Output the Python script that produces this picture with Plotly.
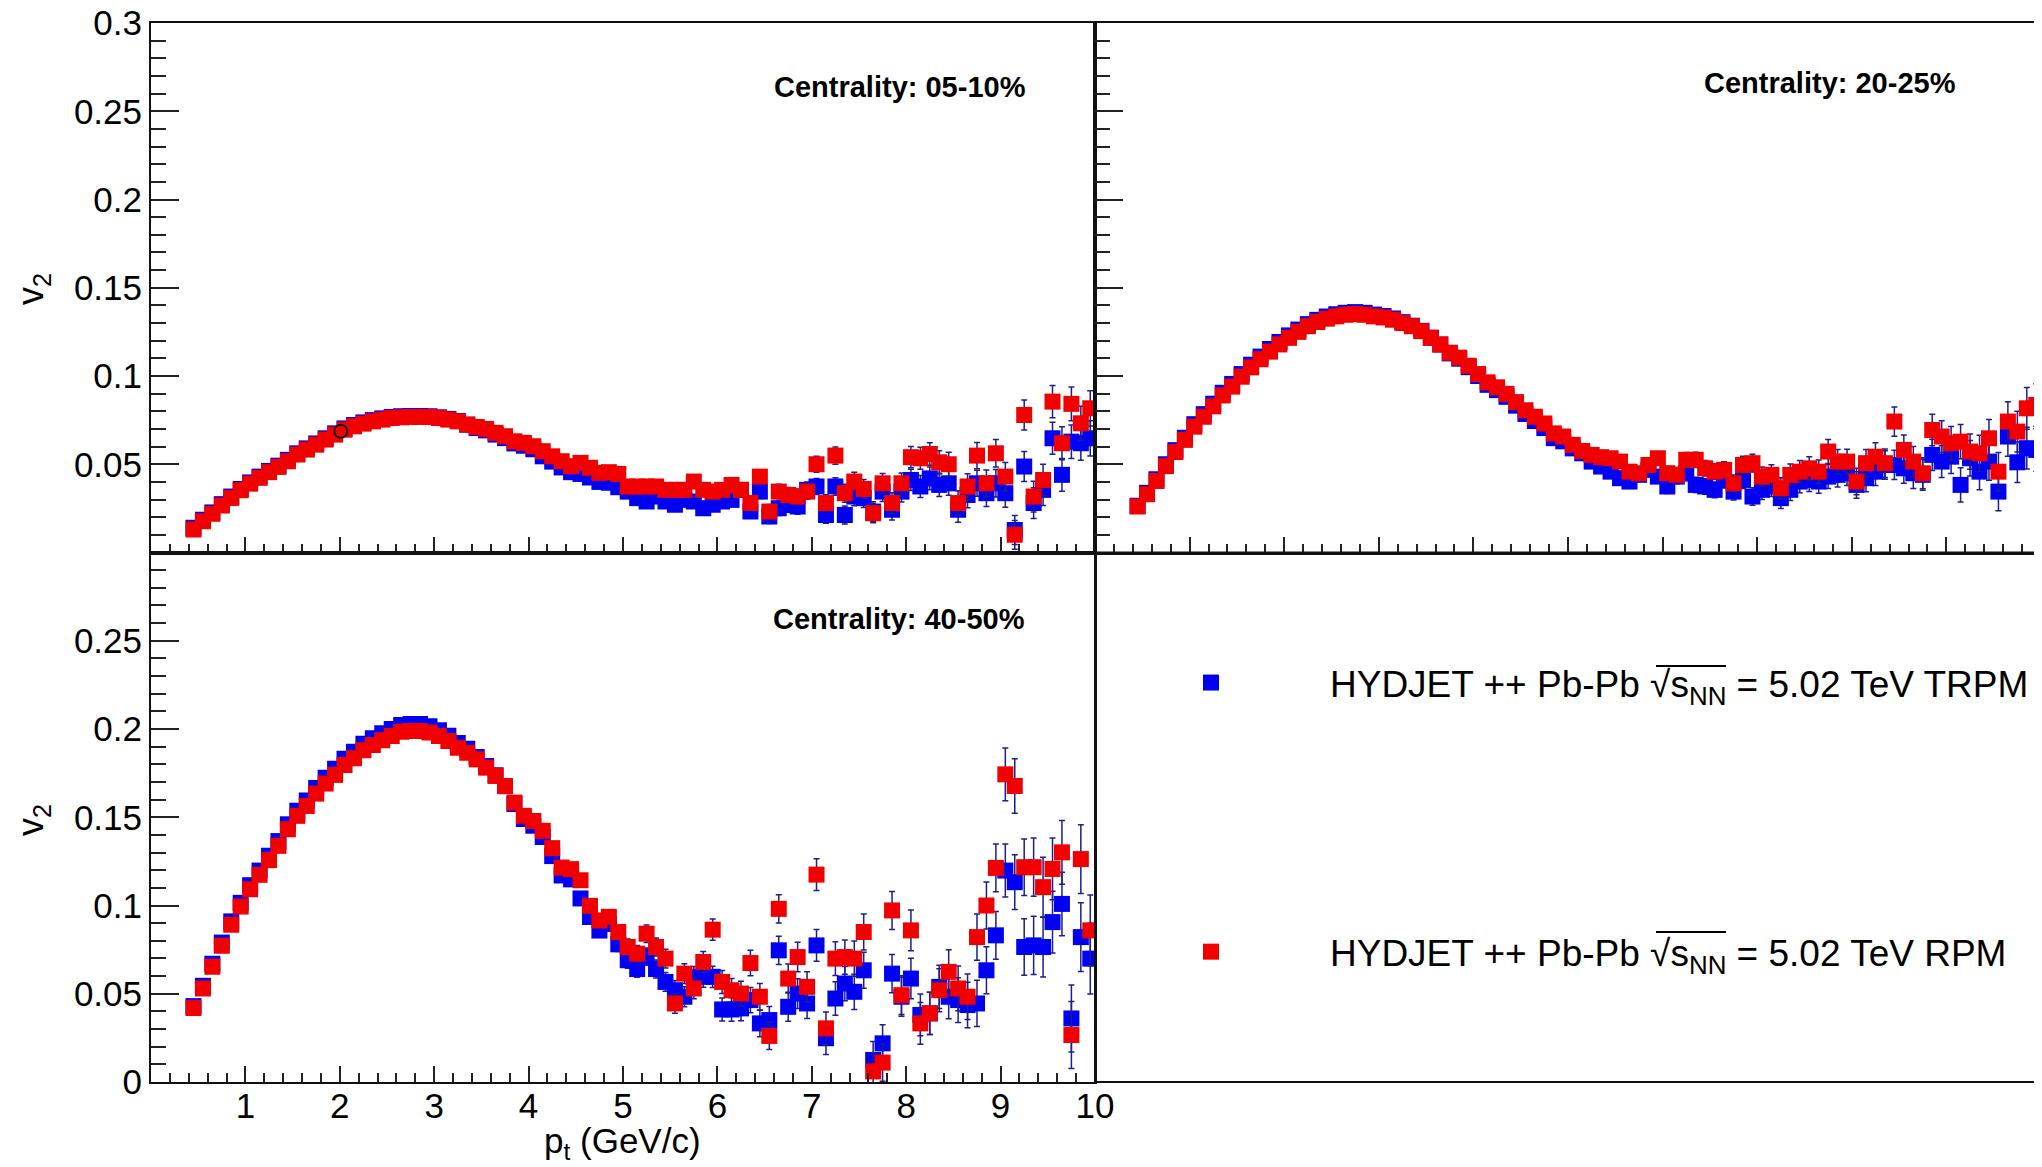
import plotly.graph_objects as go

# ---------------- data (bin centres in GeV/c) ----------------
PT = [0.45, 0.55, 0.65, 0.75, 0.85, 0.95, 1.05, 1.15, 1.25, 1.35,
      1.45, 1.55, 1.65, 1.75, 1.85, 1.95, 2.05, 2.15, 2.25, 2.35,
      2.45, 2.55, 2.65, 2.75, 2.85, 2.95, 3.05, 3.15, 3.25, 3.35,
      3.45, 3.55, 3.65, 3.75, 3.85, 3.95, 4.05, 4.15, 4.25, 4.35,
      4.45, 4.55, 4.65, 4.75, 4.85, 4.95, 5.05, 5.15, 5.25, 5.35,
      5.45, 5.55, 5.65, 5.75, 5.85, 5.95, 6.05, 6.15, 6.25, 6.35,
      6.45, 6.55, 6.65, 6.75, 6.85, 6.95, 7.05, 7.15, 7.25, 7.35,
      7.45, 7.55, 7.65, 7.75, 7.85, 7.95, 8.05, 8.15, 8.25, 8.35,
      8.45, 8.55, 8.65, 8.75, 8.85, 8.95, 9.05, 9.15, 9.25, 9.35,
      9.45, 9.55, 9.65, 9.75, 9.85, 9.95]

# Centrality 05-10%
C0510_TRPM = [0.0140, 0.0185, 0.0227, 0.0274, 0.0317, 0.0360, 0.0397, 0.0430, 0.0462, 0.0492,
              0.0525, 0.0562, 0.0590, 0.0618, 0.0647, 0.0675, 0.0703, 0.0722, 0.0737, 0.0750,
              0.0760, 0.0768, 0.0772, 0.0773, 0.0773, 0.0772, 0.0766, 0.0757, 0.0745, 0.0724,
              0.0705, 0.0692, 0.0668, 0.0648, 0.0618, 0.0605, 0.0585, 0.0545, 0.0515, 0.0482,
              0.0455, 0.0445, 0.0425, 0.0400, 0.0395, 0.0370, 0.0345, 0.0308, 0.0289, 0.0317,
              0.0289, 0.0270, 0.0298, 0.0289, 0.0251, 0.0270, 0.0289, 0.0298, 0.0355, 0.0232,
              0.0345, 0.0204, 0.0251, 0.0270, 0.0260, 0.0355, 0.0374, 0.0213, 0.0374, 0.0213,
              0.0317, 0.0308, 0.0232, 0.0345, 0.0242, 0.0345, 0.0411, 0.0374, 0.0420, 0.0383,
              0.0392, 0.0242, 0.0326, 0.0392, 0.0336, 0.0392, 0.0336, 0.0128, 0.0487, 0.0280,
              0.0355, 0.0647, 0.0440, 0.0628, 0.0619, 0.0647]
C0510_RPM = [0.0130, 0.0177, 0.0219, 0.0266, 0.0309, 0.0353, 0.0390, 0.0423, 0.0455, 0.0485,
             0.0517, 0.0555, 0.0583, 0.0611, 0.0640, 0.0668, 0.0696, 0.0715, 0.0730, 0.0743,
             0.0753, 0.0762, 0.0766, 0.0768, 0.0768, 0.0768, 0.0762, 0.0753, 0.0743, 0.0725,
             0.0711, 0.0700, 0.0678, 0.0659, 0.0630, 0.0621, 0.0602, 0.0574, 0.0545, 0.0517,
             0.0489, 0.0508, 0.0480, 0.0451, 0.0455, 0.0445, 0.0374, 0.0374, 0.0374, 0.0374,
             0.0355, 0.0355, 0.0355, 0.0402, 0.0355, 0.0345, 0.0355, 0.0383, 0.0355, 0.0280,
             0.0430, 0.0232, 0.0345, 0.0326, 0.0317, 0.0345, 0.0500, 0.0280, 0.0549, 0.0336,
             0.0402, 0.0360, 0.0223, 0.0392, 0.0280, 0.0392, 0.0540, 0.0534, 0.0558, 0.0511,
             0.0500, 0.0280, 0.0374, 0.0549, 0.0392, 0.0562, 0.0430, 0.0100, 0.0779, 0.0317,
             0.0411, 0.0855, 0.0619, 0.0842, 0.0732, 0.0817]
C0510_ERR = [0.0006, 0.0006, 0.0006, 0.0006, 0.0006, 0.0006, 0.0006, 0.0006, 0.0006, 0.0006,
             0.0008, 0.0008, 0.0008, 0.0008, 0.0008, 0.0008, 0.0008, 0.0008, 0.0008, 0.0008,
             0.0010, 0.0010, 0.0010, 0.0010, 0.0010, 0.0010, 0.0010, 0.0010, 0.0010, 0.0010,
             0.0013, 0.0013, 0.0013, 0.0013, 0.0013, 0.0013, 0.0013, 0.0013, 0.0013, 0.0013,
             0.0016, 0.0018, 0.0020, 0.0021, 0.0022, 0.0024, 0.0025, 0.0026, 0.0027, 0.0028,
             0.0029, 0.0030, 0.0031, 0.0032, 0.0033, 0.0034, 0.0035, 0.0036, 0.0037, 0.0038,
             0.0039, 0.0040, 0.0041, 0.0042, 0.0043, 0.0044, 0.0045, 0.0047, 0.0049, 0.0051,
             0.0052, 0.0053, 0.0055, 0.0056, 0.0058, 0.0059, 0.0060, 0.0062, 0.0064, 0.0066,
             0.0068, 0.0070, 0.0072, 0.0074, 0.0076, 0.0078, 0.0080, 0.0082, 0.0085, 0.0087,
             0.0089, 0.0091, 0.0093, 0.0095, 0.0097, 0.0100]

# Centrality 20-25%
C2025_TRPM = [0.0265, 0.0338, 0.0415, 0.0500, 0.0580, 0.0650, 0.0727, 0.0784, 0.0843, 0.0905,
              0.0955, 0.1011, 0.1064, 0.1110, 0.1153, 0.1193, 0.1230, 0.1263, 0.1294, 0.1318,
              0.1337, 0.1350, 0.1358, 0.1362, 0.1358, 0.1348, 0.1340, 0.1326, 0.1305, 0.1285,
              0.1256, 0.1217, 0.1178, 0.1128, 0.1098, 0.1050, 0.1000, 0.0950, 0.0920, 0.0882,
              0.0832, 0.0785, 0.0745, 0.0705, 0.0648, 0.0630, 0.0590, 0.0562, 0.0515, 0.0487,
              0.0458, 0.0421, 0.0402, 0.0440, 0.0468, 0.0430, 0.0374, 0.0430, 0.0449, 0.0383,
              0.0374, 0.0355, 0.0411, 0.0345, 0.0411, 0.0317, 0.0355, 0.0374, 0.0308, 0.0355,
              0.0402, 0.0411, 0.0402, 0.0430, 0.0440, 0.0449, 0.0383, 0.0421, 0.0458, 0.0496,
              0.0496, 0.0477, 0.0449, 0.0440, 0.0553, 0.0515, 0.0543, 0.0383, 0.0534, 0.0458,
              0.0515, 0.0345, 0.0657, 0.0511, 0.0591, 0.0581]
C2025_RPM = [0.0261, 0.0330, 0.0405, 0.0489, 0.0569, 0.0638, 0.0713, 0.0769, 0.0828, 0.0890,
             0.0940, 0.0996, 0.1049, 0.1095, 0.1138, 0.1179, 0.1216, 0.1250, 0.1282, 0.1306,
             0.1325, 0.1338, 0.1347, 0.1351, 0.1347, 0.1338, 0.1332, 0.1319, 0.1300, 0.1282,
             0.1254, 0.1216, 0.1179, 0.1132, 0.1104, 0.1058, 0.1011, 0.0964, 0.0936, 0.0899,
             0.0852, 0.0806, 0.0769, 0.0731, 0.0675, 0.0657, 0.0610, 0.0575, 0.0553, 0.0540,
             0.0534, 0.0515, 0.0458, 0.0449, 0.0496, 0.0534, 0.0449, 0.0440, 0.0525, 0.0525,
             0.0477, 0.0458, 0.0468, 0.0392, 0.0496, 0.0506, 0.0430, 0.0440, 0.0364, 0.0440,
             0.0458, 0.0477, 0.0458, 0.0572, 0.0515, 0.0515, 0.0402, 0.0506, 0.0543, 0.0506,
             0.0742, 0.0581, 0.0515, 0.0449, 0.0694, 0.0657, 0.0619, 0.0628, 0.0572, 0.0562,
             0.0647, 0.0458, 0.0742, 0.0685, 0.0817, 0.0836]
C2025_ERR = [0.0006, 0.0006, 0.0006, 0.0006, 0.0006, 0.0006, 0.0006, 0.0006, 0.0006, 0.0006,
             0.0008, 0.0008, 0.0008, 0.0008, 0.0008, 0.0008, 0.0008, 0.0008, 0.0008, 0.0008,
             0.0010, 0.0010, 0.0010, 0.0010, 0.0010, 0.0010, 0.0010, 0.0010, 0.0010, 0.0010,
             0.0013, 0.0013, 0.0013, 0.0013, 0.0013, 0.0013, 0.0013, 0.0013, 0.0013, 0.0013,
             0.0017, 0.0019, 0.0021, 0.0022, 0.0024, 0.0026, 0.0028, 0.0029, 0.0030, 0.0031,
             0.0032, 0.0033, 0.0034, 0.0035, 0.0036, 0.0037, 0.0040, 0.0041, 0.0042, 0.0043,
             0.0044, 0.0045, 0.0046, 0.0047, 0.0049, 0.0050, 0.0055, 0.0057, 0.0059, 0.0061,
             0.0063, 0.0065, 0.0066, 0.0068, 0.0069, 0.0070, 0.0075, 0.0077, 0.0079, 0.0081,
             0.0083, 0.0085, 0.0086, 0.0088, 0.0089, 0.0090, 0.0095, 0.0097, 0.0100, 0.0103,
             0.0106, 0.0109, 0.0112, 0.0115, 0.0118, 0.0120]

# Centrality 40-50%
C4050_TRPM = [0.0430, 0.0545, 0.0670, 0.0790, 0.0910, 0.1015, 0.1115, 0.1198, 0.1282, 0.1365,
              0.1460, 0.1537, 0.1595, 0.1666, 0.1724, 0.1775, 0.1832, 0.1871, 0.1917, 0.1948,
              0.1976, 0.2000, 0.2022, 0.2028, 0.2028, 0.2015, 0.1993, 0.1962, 0.1921, 0.1888,
              0.1842, 0.1790, 0.1738, 0.1676, 0.1575, 0.1490, 0.1452, 0.1388, 0.1280, 0.1170,
              0.1148, 0.1040, 0.0935, 0.0858, 0.0895, 0.0780, 0.0690, 0.0640, 0.0710, 0.0640,
              0.0567, 0.0520, 0.0483, 0.0596, 0.0596, 0.0596, 0.0411, 0.0411, 0.0417, 0.0464,
              0.0332, 0.0351, 0.0746, 0.0426, 0.0501, 0.0445, 0.0774, 0.0248, 0.0473, 0.0558,
              0.0511, 0.0633, 0.0125, 0.0219, 0.0614, 0.0483, 0.0586, 0.0380, 0.0389, 0.0539,
              0.0483, 0.0464, 0.0436, 0.0445, 0.0633, 0.0831, 0.1198, 0.1132, 0.0765, 0.0774,
              0.0765, 0.0906, 0.1009, 0.0360, 0.0821, 0.0699]
C4050_RPM = [0.0419, 0.0530, 0.0653, 0.0772, 0.0891, 0.0994, 0.1092, 0.1174, 0.1257, 0.1338,
             0.1432, 0.1508, 0.1564, 0.1634, 0.1691, 0.1740, 0.1796, 0.1834, 0.1879, 0.1909,
             0.1936, 0.1960, 0.1985, 0.1989, 0.1989, 0.1980, 0.1960, 0.1932, 0.1894, 0.1866,
             0.1828, 0.1781, 0.1734, 0.1677, 0.1583, 0.1508, 0.1479, 0.1423, 0.1325, 0.1215,
             0.1206, 0.1143, 0.0998, 0.0915, 0.0936, 0.0850, 0.0765, 0.0727, 0.0840, 0.0765,
             0.0699, 0.0445, 0.0614, 0.0530, 0.0680, 0.0863, 0.0567, 0.0520, 0.0501, 0.0674,
             0.0483, 0.0261, 0.0981, 0.0586, 0.0708, 0.0539, 0.1175, 0.0304, 0.0699, 0.0708,
             0.0699, 0.0850, 0.0060, 0.0110, 0.0972, 0.0492, 0.0859, 0.0332, 0.0389, 0.0520,
             0.0624, 0.0530, 0.0483, 0.0821, 0.1000, 0.1213, 0.1743, 0.1677, 0.1217, 0.1217,
             0.1104, 0.1207, 0.1301, 0.0266, 0.1263, 0.0859]
C4050_ERR = [0.0008, 0.0008, 0.0008, 0.0008, 0.0008, 0.0008, 0.0008, 0.0008, 0.0008, 0.0008,
             0.0010, 0.0010, 0.0010, 0.0010, 0.0010, 0.0010, 0.0010, 0.0010, 0.0010, 0.0010,
             0.0013, 0.0013, 0.0013, 0.0013, 0.0013, 0.0013, 0.0013, 0.0013, 0.0013, 0.0013,
             0.0018, 0.0019, 0.0020, 0.0021, 0.0022, 0.0023, 0.0024, 0.0025, 0.0026, 0.0028,
             0.0030, 0.0032, 0.0034, 0.0036, 0.0038, 0.0040, 0.0045, 0.0047, 0.0049, 0.0051,
             0.0053, 0.0055, 0.0056, 0.0058, 0.0059, 0.0060, 0.0065, 0.0067, 0.0070, 0.0072,
             0.0075, 0.0077, 0.0080, 0.0082, 0.0084, 0.0085, 0.0090, 0.0092, 0.0095, 0.0097,
             0.0100, 0.0102, 0.0104, 0.0106, 0.0108, 0.0110, 0.0115, 0.0118, 0.0120, 0.0122,
             0.0125, 0.0127, 0.0129, 0.0131, 0.0133, 0.0135, 0.0150, 0.0155, 0.0160, 0.0165,
             0.0170, 0.0175, 0.0180, 0.0190, 0.0195, 0.0200]

CENTRALITY = ["Centrality: 05-10%", "Centrality: 20-25%", "Centrality: 40-50%"]
LEG_TRPM = "HYDJET ++ Pb-Pb √s<sub>NN</sub> = 5.02 TeV TRPM"
LEG_RPM = "HYDJET ++ Pb-Pb √s<sub>NN</sub> = 5.02 TeV RPM"
X_TICKS = [1, 2, 3, 4, 5, 6, 7, 8, 9, 10]
Y_TICKS_TOP = [0.05, 0.1, 0.15, 0.2, 0.25, 0.3]
Y_TICKS_BOT = [0, 0.05, 0.1, 0.15, 0.2, 0.25]

# ---------------- styling ----------------
BLUE = "#0000f2"
RED = "#f20000"
ERRC = "#1e1e8c"
FONT = "Liberation Sans, Arial, Helvetica, sans-serif"
OFF = 8                       # default page margin of the html body
W, H = 2042 - OFF, 1167 - OFF
ML, MR, MT, MB = 151 - OFF, 1, 23 - OFF, 85
PW, PH = W - ML - MR, H - MT - MB
XSPLIT = 944 / PW


def px_x(px):
    return (px - OFF - ML) / PW


def px_y(py):
    return 1 - (py - OFF - MT) / PH


fig = go.Figure()

panels = [
    ("x", "y", C0510_TRPM, C0510_RPM, C0510_ERR, True),
    ("x2", "y2", C2025_TRPM, C2025_RPM, C2025_ERR, False),
    ("x3", "y3", C4050_TRPM, C4050_RPM, C4050_ERR, False),
]
for xa, ya, yb, yr, err, show in panels:
    fig.add_trace(go.Scatter(
        x=PT, y=yb, mode="markers", xaxis=xa, yaxis=ya,
        marker=dict(symbol="square", size=16, color=BLUE, line=dict(width=0)),
        error_y=dict(type="data", array=err, color=ERRC, thickness=1.5, width=3),
        name=LEG_TRPM, legendgroup="trpm", showlegend=show))
    fig.add_trace(go.Scatter(
        x=PT, y=yr, mode="markers", xaxis=xa, yaxis=ya,
        marker=dict(symbol="square", size=16, color=RED, line=dict(width=0)),
        error_y=dict(type="data", array=err, color=ERRC, thickness=1.5, width=3),
        name=LEG_RPM, legendgroup="rpm", showlegend=show))

# stray open marker seen in the first pad
fig.add_trace(go.Scatter(x=[2.01], y=[0.0687], mode="markers", xaxis="x", yaxis="y",
                         marker=dict(symbol="circle-open", size=13, color="#111111",
                                     line=dict(width=2)),
                         showlegend=False, hoverinfo="skip"))

axis_common = dict(showline=True, mirror=True, linecolor="#111111", linewidth=2,
                   showgrid=False, zeroline=False, ticks="inside", tickcolor="#222222",
                   tickwidth=1.5, ticklabeloverflow="allow",
                   tickfont=dict(family=FONT, size=35, color="black"))


def xaxis(domain, anchor, labels):
    d = dict(axis_common, domain=domain, anchor=anchor, range=[0, 10], ticklen=16,
             minor=dict(dtick=0.2, ticklen=9, ticks="inside", tickcolor="#222222",
                        tickwidth=1.5, showgrid=False))
    if labels:
        d.update(tickmode="array", tickvals=X_TICKS, ticktext=[str(v) for v in X_TICKS],
                 ticklabelstandoff=-8)
    else:
        d.update(dtick=1, showticklabels=False)
    return d


def yaxis(domain, anchor, vals):
    d = dict(axis_common, domain=domain, anchor=anchor, range=[0, 0.3], ticklen=28,
             minor=dict(dtick=0.01, ticklen=15, ticks="inside", tickcolor="#222222",
                        tickwidth=1.5, showgrid=False))
    if vals is not None:
        d.update(tickmode="array", tickvals=vals, ticktext=[("%g" % v) for v in vals])
    else:
        d.update(dtick=0.05, showticklabels=False)
    return d


fig.update_layout(
    width=W, height=H,
    margin=dict(l=ML, r=MR, t=MT, b=MB, autoexpand=False),
    paper_bgcolor="white", plot_bgcolor="white",
    font=dict(family=FONT, color="black"),
    xaxis=xaxis([0, XSPLIT], "y", False),
    yaxis=yaxis([0.5, 1], "x", Y_TICKS_TOP),
    xaxis2=xaxis([XSPLIT, 1], "y2", False),
    yaxis2=yaxis([0.5, 1], "x2", None),
    xaxis3=xaxis([0, XSPLIT], "y3", True),
    yaxis3=yaxis([0, 0.5], "x3", Y_TICKS_BOT),
    showlegend=True,
    legend=dict(x=px_x(1092), y=px_y(652), xanchor="left", yanchor="top",
                font=dict(family=FONT, size=37, color="black"),
                itemwidth=228, tracegroupgap=218, traceorder="grouped",
                itemsizing="trace", bgcolor="rgba(0,0,0,0)", borderwidth=0),
)

# frame of the fourth (legend) pad
fig.add_shape(type="rect", xref="paper", yref="paper", x0=XSPLIT, x1=1, y0=0, y1=0.5,
              line=dict(color="#111111", width=2))
# radical bars over s_NN in the legend entries
for ybar in (666, 932):
    fig.add_shape(type="line", xref="paper", yref="paper",
                  x0=px_x(1656), x1=px_x(1726), y0=px_y(ybar), y1=px_y(ybar),
                  line=dict(color="black", width=2))

ann = []
for yc in (289, 820):
    ann.append(dict(text="v<sub>2</sub>", xref="paper", yref="paper", x=px_x(33), y=px_y(yc),
                    xanchor="center", yanchor="middle", textangle=-90, showarrow=False,
                    font=dict(family=FONT, size=36)))
ann.append(dict(text="p<sub>t</sub> (GeV/c)", xref="paper", yref="paper", x=px_x(622),
                y=px_y(1143), xanchor="center", yanchor="middle", showarrow=False,
                font=dict(family=FONT, size=35)))
cent_pos = [(900, 87), (1830, 83), (899, 619)]
for txt, (cx, cy) in zip(CENTRALITY, cent_pos):
    ann.append(dict(text="<b>" + txt + "</b>", xref="paper", yref="paper", x=px_x(cx),
                    y=px_y(cy), xanchor="center", yanchor="middle", showarrow=False,
                    font=dict(family=FONT, size=29)))
fig.update_layout(annotations=ann)

fig.write_html("out.html")
